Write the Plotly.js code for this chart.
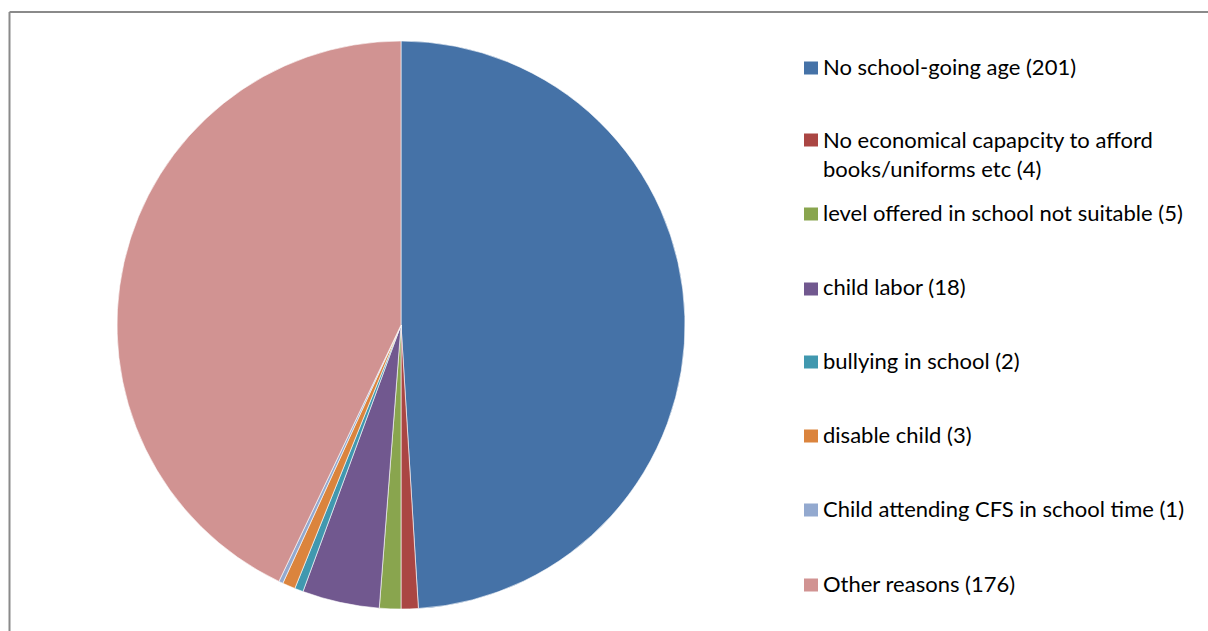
<!DOCTYPE html>
<html><head><meta charset="utf-8">
<script src="https://cdn.plot.ly/plotly-3.0.1.min.js"></script>
<style>html,body{margin:0;padding:0;background:#fff}#chart{width:1208px;height:631px}</style>
</head><body><div id="chart"></div>
<script>
const categories = [
  "No school-going age",
  "No economical capapcity to afford<br>books/uniforms etc",
  "level offered in school not suitable",
  "child labor",
  "bullying in school",
  "disable child",
  "Child attending CFS in school time",
  "Other reasons"
];
const values = [201, 4, 5, 18, 2, 3, 1, 176];
const colors = ["#4572A7","#AA4643","#89A54E","#71588F","#4198AF","#DB843D","#93A9CF","#D19392"];

const W = 1208, H = 631;
const legendY = [66, 154, 212, 287, 360, 434, 508, 583];
const markerY = [68, 140, 214, 289, 362, 436, 510, 585];
const px = x => x / W, py = y => 1 - y / H;

const annotations = categories.map((c, i) => ({
  xref: 'paper', yref: 'paper', x: px(821), y: py(legendY[i]),
  xanchor: 'left', yanchor: 'middle', align: 'left', showarrow: false,
  text: c + ' (' + values[i] + ')',
  font: {family: 'Lato, "Liberation Sans", sans-serif', size: 22, color: '#000'}
}));
const shapes = categories.map((c, i) => ({
  type: 'rect', xref: 'paper', yref: 'paper',
  x0: px(804), x1: px(818), y0: py(markerY[i] + 6.5), y1: py(markerY[i] - 6.5),
  fillcolor: colors[i], line: {width: 0}
}));
shapes.push({type:'line', xref:'paper', yref:'paper', x0: px(9.5), x1: 1, y0: py(12), y1: py(12), line:{color:'#8a8a8a', width:2}});
shapes.push({type:'line', xref:'paper', yref:'paper', x0: px(9.5), x1: px(9.5), y0: py(12), y1: 0, line:{color:'#8a8a8a', width:2}});

const cx = 401, cy = 325, r = 284;
Plotly.newPlot('chart', [{
  type: 'pie', labels: categories, values: values, sort: false,
  direction: 'clockwise', rotation: 0, textinfo: 'none', hoverinfo: 'label+value',
  marker: {colors: colors, line: {color: '#ffffff', width: 0.6}},
  domain: {x: [px(cx - r), px(cx + r)], y: [py(cy + r), py(cy - r)]}
}], {
  width: W, height: H, margin: {l:0, r:0, t:0, b:0},
  showlegend: false, paper_bgcolor: '#fff',
  annotations: annotations, shapes: shapes
}, {displayModeBar: false, staticPlot: true});
</script></body></html>
